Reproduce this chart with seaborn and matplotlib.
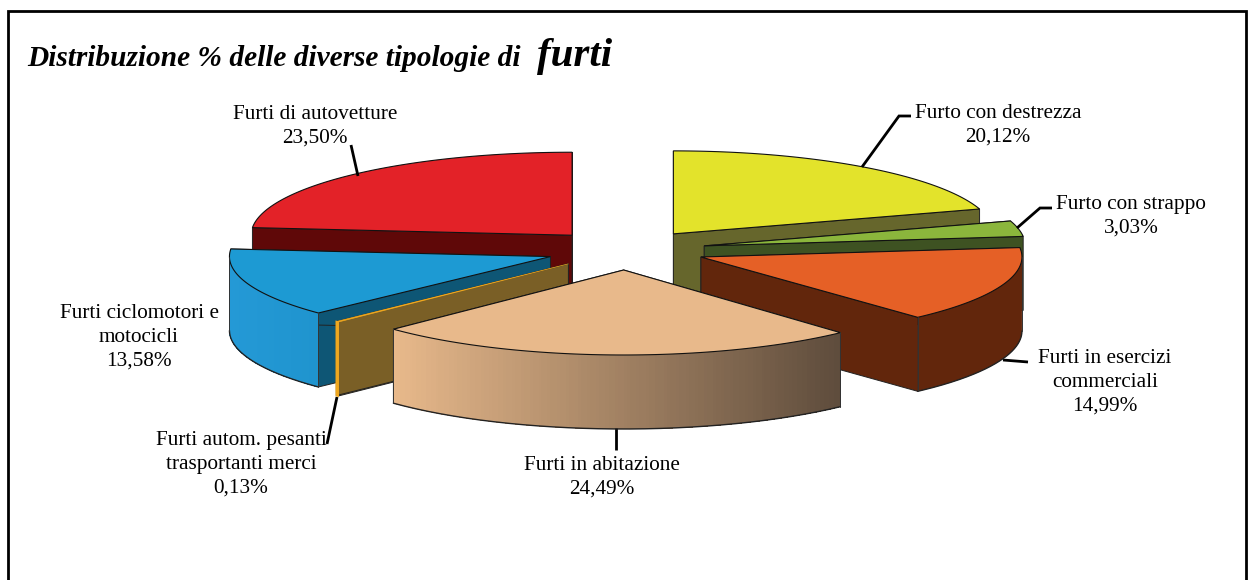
import numpy as np
import seaborn as sns
import matplotlib.pyplot as plt

# Values
categories = ["Furto con destrezza", "Furto con strappo", "Furti in esercizi\ncommerciali",
              "Furti in abitazione", "Furti autom. pesanti\ntrasportanti merci",
              "Furti ciclomotori e\nmotocicli", "Furti di autovetture"]
values = [20.12, 3.03, 14.99, 24.49, 0.13, 13.58, 23.50]
value_labels = ["20,12%", "3,03%", "14,99%", "24,49%", "0,13%", "13,58%", "23,50%"]

top_colors = ["#E3E32B", "#8BB63C", "#E56026", "#E8B98B", "#EFA81F", "#1D9AD3", "#E32228"]
side_colors = ["#66662C", "#3E5222", "#62260C", "#E8B98B", "#7A5F26", "#0E5675", "#5F0808"]
outer_left = ["#66662C", "#3E5222", "#62260C", "#E8B98B", "#EFA81F", "#2499D6", "#5F0808"]
outer_right = ["#66662C", "#3E5222", "#62260C", "#5E4C3C", "#EFA81F", "#1F94CE", "#5F0808"]

label_pos = [(998, 125.5), (1131, 216.5), (1105, 382.5), (602, 477.5), (241, 464.5), (139, 337.5), (315, 126.5)]
leaders = [[(862, 167), (899, 116), (911, 116)],
           [(1017, 228), (1040, 208), (1052, 208)],
           [(1003, 360), (1028, 362)],
           [(616, 428), (616, 450)],
           [(337, 397), (327, 444)],
           None,
           [(351, 145), (358, 176)]]
draw_order = [6, 0, 1, 2, 5, 4, 3]

# Pie geometry, in pixels
cx, cy = 626, 250
rx = 321
ry_back = 83
depth = 74
shift_x, shift_y = 80, 20

sns.set_theme(style="white")
plt.rcParams["font.family"] = ["Liberation Serif", "DejaVu Serif"]

fig, ax = plt.subplots(figsize=(12.51, 5.80), dpi=100)
ax.set_position([0, 0, 1, 1])
ax.set_xlim(0, 1251)
ax.set_ylim(580, 0)
ax.axis("off")

# slice angles, clockwise from 12 o'clock
shares = np.array(values) / np.sum(values) * 360
ends = np.cumsum(shares)
starts = ends - shares

for i in draw_order:
    a, b = starts[i], ends[i]
    mid = np.radians((a + b) / 2)
    ox = cx + shift_x * np.sin(mid)
    oy = cy - shift_y * np.cos(mid)
    # nearer slices look a little deeper
    ry_front = 80 + 5 * max(-np.cos(mid), 0)


    def ell(theta):
        t = np.radians(theta)
        c = np.cos(t)
        return rx * np.sin(t), -np.where(c > 0, ry_back, ry_front) * c


    thin = shares[i] < 1

    # the two cut faces
    for edge in (a, b):
        ex, ey = ell(edge)
        ax.fill([ox, ox + ex, ox + ex, ox], [oy, oy + ey, oy + ey + depth, oy + depth],
                facecolor=side_colors[i], edgecolor="#222222", lw=0.7)

    # outer wall, only the front half shows
    lo, hi = max(a, 90), min(b, 270)
    if hi > lo:
        th = np.linspace(lo, hi, 161)
        xs, ys = ell(th)
        xs, ys = ox + xs, oy + ys
        ax.fill(np.r_[xs, xs[::-1]], np.r_[ys, ys[::-1] + depth], facecolor=outer_right[i],
                edgecolor=outer_left[i], lw=1.2 if thin else 0.2)
        if outer_left[i] != outer_right[i]:
            # colour runs with x, as in a horizontal gradient
            ramp = sns.blend_palette([outer_left[i], outer_right[i]], n_colors=101)
            pos = (xs - xs.min()) / max(xs.max() - xs.min(), 1)
            for k in range(160):
                c = ramp[int(round(pos[k] * 100))]
                k2 = min(k + 2, 160)
                ax.fill([xs[k], xs[k2], xs[k2], xs[k]],
                        [ys[k], ys[k2], ys[k2] + depth, ys[k] + depth],
                        facecolor=c, edgecolor="none", antialiased=False)
        if not thin:
            ax.plot(xs, ys + depth, color="#222222", lw=1.0)
            ax.plot([xs[0], xs[0]], [ys[0], ys[0] + depth], color="#333333", lw=0.7)
            ax.plot([xs[-1], xs[-1]], [ys[-1], ys[-1] + depth], color="#333333", lw=0.7)

    # top of the slice
    th = np.linspace(a, b, 80)
    xs, ys = ell(th)
    ax.fill(np.r_[ox, ox + xs], np.r_[oy, oy + ys], facecolor=top_colors[i],
            edgecolor=top_colors[i] if thin else "#111111", lw=0.5 if thin else 0.8)

# Leader lines and labels
for pts in leaders:
    if pts is not None:
        px, py = zip(*pts)
        ax.plot(px, py, color="black", lw=2.0, solid_capstyle="butt", solid_joinstyle="miter", zorder=1)

for name, val, (lx, ly) in zip(categories, value_labels, label_pos):
    ax.text(lx, ly, name + "\n" + val, ha="center", va="center", fontsize=15.3,
            color="black", linespacing=1.36)

# Title
ax.text(27, 66, "Distribuzione % delle diverse tipologie di", fontsize=21.2, fontweight="bold",
        fontstyle="italic", color="black", va="baseline")
ax.text(537, 66, "furti", fontsize=29.5, fontweight="bold", fontstyle="italic", color="black", va="baseline")

# Frame, open at the bottom
ax.plot([8, 8, 1246, 1246], [580, 10.5, 10.5, 580], color="black", lw=2.0, solid_joinstyle="miter")

plt.savefig("out.png", dpi=100)
